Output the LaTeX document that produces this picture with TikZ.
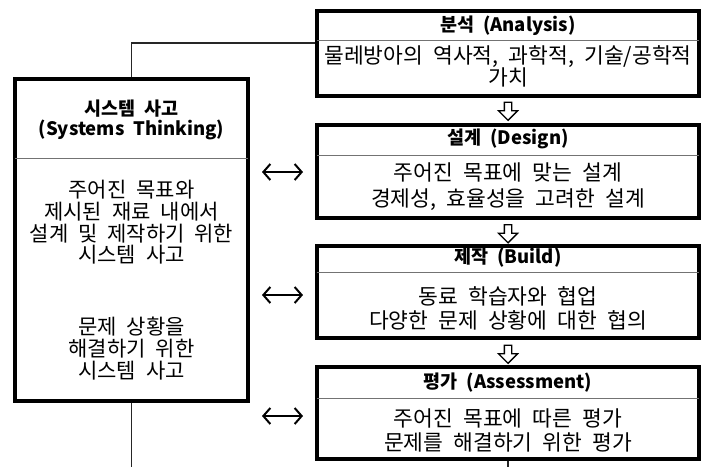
\documentclass[tikz,border=0pt]{standalone}
\usepackage{fontspec}
\setmainfont{Noto Sans CJK KR}[WordSpace=2.1]
\usetikzlibrary{arrows.meta,shapes.arrows}
\begin{document}
\begin{tikzpicture}[x=1pt,y=-1pt,
 box/.style={draw, line width=3.2pt, rectangle, inner sep=0pt},
 divider/.style={draw=black!55, line width=0.9pt, shorten >=1.6pt, shorten <=1.6pt},
 conn/.style={draw=black!85, line width=1.2pt},
 ttl/.style={font=\fontsize{18.5}{20.5}\selectfont\bfseries, align=center, inner sep=0pt},
 body/.style={font=\fontsize{21.5}{22.5}\selectfont, align=center, inner sep=0pt},
 lbody/.style={font=\fontsize{21}{21.7}\selectfont, align=center, inner sep=0pt},
 dbl/.style={{Straight Barb[length=7pt,width=16pt]}-{Straight Barb[length=7pt,width=16pt]}, line width=2pt},
 downarrow/.style={single arrow, draw, line width=1.3pt, rotate=-90, minimum height=18pt, minimum width=18pt, single arrow head extend=6pt, inner sep=3pt, single arrow tip angle=90}]
\useasboundingbox (0,0) rectangle (707,467);

% left box
\node[box, minimum width=233pt, minimum height=322pt] (sys) at (131.5,240) {};
\draw[divider] (sys.west |- 0,158) -- (sys.east |- 0,158);
\node[ttl] (systitle) at (131.5,120) {시스템 사고\\(Systems Thinking)};
\node[lbody] (sysb1) at (131.5,222.5) {주어진 목표와\\제시된 재료 내에서\\설계 및 제작하기 위한\\시스템 사고};
\node[lbody] (sysb2) at (131.5,348.5) {문제 상황을\\해결하기 위한\\시스템 사고};

% analysis
\node[box, minimum width=382pt, minimum height=85pt] (anal) at (508,53.5) {};
\draw[divider] (anal.west |- 0,40) -- (anal.east |- 0,40);
\node[ttl] (analt) at (508,25.5) {분석 (Analysis)};
\node[body] (analb) at (508,66.5) {물레방아의 역사적, 과학적, 기술/공학적\\가치};

% design
\node[box, minimum width=382pt, minimum height=93pt] (des) at (508,171.5) {};
\draw[divider] (des.west |- 0,155) -- (des.east |- 0,155);
\node[ttl] (dest) at (508,138.5) {설계 (Design)};
\node[body, font=\fontsize{21.5}{26}\selectfont] (desb) at (508,186.5) {주어진 목표에 맞는 설계\\경제성, 효율성을 고려한 설계};

% build
\node[box, minimum width=382pt, minimum height=92pt] (bld) at (508,292) {};
\draw[divider] (bld.west |- 0,272) -- (bld.east |- 0,272);
\node[ttl] (bldt) at (508,258) {제작 (Build)};
\node[body, font=\fontsize{21.5}{24}\selectfont] (bldb) at (508,308) {동료 학습자와 협업\\다양한 문제 상황에 대한 협의};

% assessment
\node[box, minimum width=382pt, minimum height=92pt] (asm) at (508,413) {};
\draw[divider] (asm.west |- 0,398) -- (asm.east |- 0,398);
\node[ttl] (asmt) at (508,383) {평가 (Assessment)};
\node[body, font=\fontsize{21.5}{24.5}\selectfont] (asmb) at (508,430.5) {주어진 목표에 따른 평가\\문제를 해결하기 위한 평가};

% down arrows
\node[downarrow] (da1) at (508,109.5) {};
\node[downarrow] (da2) at (508,232) {};
\node[downarrow] (da3) at (508,352.5) {};

% double arrows
\coordinate (d1a) at (262,172); \coordinate (d1b) at (303,172);
\coordinate (d2a) at (262,295); \coordinate (d2b) at (303,295);
\coordinate (d3a) at (262,416); \coordinate (d3b) at (303,416);
\draw[dbl] (d1a) -- (d1b);
\draw[dbl] (d2a) -- (d2b);
\draw[dbl] (d3a) -- (d3b);

% connectors
\draw[conn] (sys.north) |- (anal.west |- 0,43);
\coordinate (bl) at (131.5,467);
\coordinate (br) at (508,467);
\draw[conn] (sys.south) -- (bl);
\draw[conn] (asm.south) -- (br);
\end{tikzpicture}
\end{document}
